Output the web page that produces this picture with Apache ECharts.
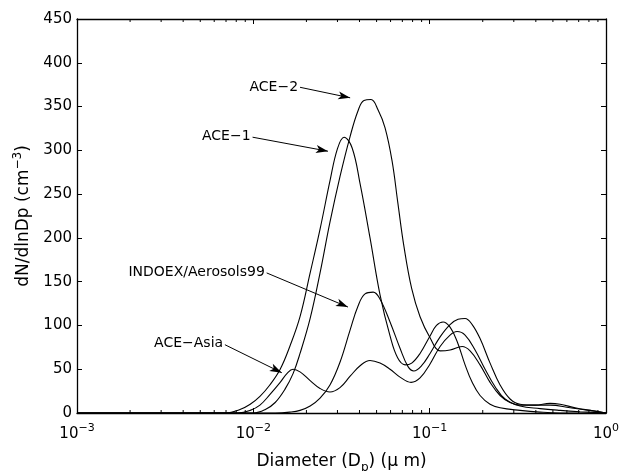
<!DOCTYPE html>
<html>
<head>
<meta charset="utf-8">
<script src="https://cdn.jsdelivr.net/npm/echarts@6/dist/echarts.min.js"></script>
<style>
  html, body { margin: 0; padding: 0; background: #fff; }
  #chart { width: 619px; height: 471px; }
</style>
</head>
<body>
<div id="chart"></div>
<script>
// size distributions, [diameter (um), dN/dlnDp (cm^-3)]
const ace1 = [
  [0.001, 0], [0.0070, 0], [0.0084, 4], [0.0096, 10], [0.0109, 19], [0.0124, 32],
  [0.0142, 50], [0.0161, 76], [0.0184, 110], [0.0210, 160], [0.0239, 210], [0.0272, 265],
  [0.0300, 302], [0.0327, 315], [0.0363, 303], [0.0403, 262], [0.0459, 200], [0.0523, 135],
  [0.0596, 88], [0.0658, 63], [0.0725, 55], [0.0791, 57], [0.0882, 68], [0.1005, 88],
  [0.1093, 100], [0.1191, 104], [0.1305, 98], [0.1430, 82], [0.1588, 55], [0.1742, 35],
  [0.1931, 20], [0.2201, 10], [0.2508, 6], [0.3257, 3], [0.4228, 1], [0.549, 0], [1, 0]
]
const ace2 = [
  [0.001, 0], [0.0100, 0], [0.0117, 4], [0.0133, 12], [0.0151, 27], [0.0168, 45],
  [0.0184, 68], [0.0210, 108], [0.0239, 160], [0.0272, 218], [0.0310, 270], [0.0354, 316],
  [0.0392, 345], [0.0424, 357], [0.0465, 358], [0.0510, 346], [0.0558, 326], [0.0612, 288],
  [0.0660, 240], [0.0715, 190], [0.0791, 142], [0.0882, 110], [0.1005, 86], [0.1146, 71],
  [0.1305, 72], [0.1528, 76], [0.1695, 71], [0.1931, 55], [0.2201, 35], [0.2508, 20],
  [0.2858, 12], [0.3257, 9], [0.4818, 9], [0.6258, 6], [0.8125, 3], [1, 0]
]
const indoex = [
  [0.001, 0], [0.0133, 0], [0.0161, 1], [0.0184, 3], [0.0210, 8], [0.0239, 17],
  [0.0272, 32], [0.0310, 58], [0.0354, 95], [0.0392, 122], [0.0430, 136], [0.0478, 138],
  [0.0523, 130], [0.0596, 104], [0.0679, 74], [0.0754, 53], [0.0813, 48], [0.0900, 54],
  [0.1005, 68], [0.1146, 87], [0.1305, 101], [0.1449, 107], [0.1588, 108], [0.1742, 101],
  [0.1931, 85], [0.2201, 57], [0.2508, 32], [0.2858, 16], [0.3257, 10], [0.396, 9],
  [0.4818, 11], [0.549, 10], [0.668, 6], [0.8125, 3], [1, 0]
]
const aceAsia = [
  [0.001, 0], [0.0082, 0], [0.0096, 3], [0.0109, 9], [0.0124, 21], [0.0142, 35],
  [0.0155, 45], [0.0168, 50], [0.0184, 47], [0.0210, 37], [0.0239, 28], [0.0272, 24],
  [0.0310, 29], [0.0354, 42], [0.0403, 54], [0.0459, 60], [0.0523, 57], [0.0596, 50],
  [0.0679, 41], [0.0784, 35], [0.0882, 40], [0.1005, 56], [0.1146, 76], [0.1305, 89],
  [0.1430, 93], [0.1588, 89], [0.1809, 72], [0.2062, 50], [0.2350, 30], [0.2677, 16],
  [0.3257, 8], [0.4228, 5], [0.549, 3], [0.713, 1.5], [1, 0]
]

const seriesNames = ['ACE−1', 'ACE−2', 'INDOEX/Aerosols99', 'ACE−Asia']
const seriesData = [ace1, ace2, indoex, aceAsia]
// arrow for each label: tail (at the text) and head, in data units
const arrowFrom = [[0.0099, 315], [0.0184, 372], [0.0119, 160], [0.0069, 78]]
const arrowTo = [[0.0265, 299], [0.0354, 360], [0.0344, 121], [0.0145, 46]]

const xMin = 0.001
const xMax = 1
const yMax = 450
const yStep = 50
const minorTicks = [
  0.002, 0.003, 0.004, 0.005, 0.006, 0.007, 0.008, 0.009,
  0.02, 0.03, 0.04, 0.05, 0.06, 0.07, 0.08, 0.09,
  0.2, 0.3, 0.4, 0.5, 0.6, 0.7, 0.8, 0.9
]

const fontFamily = 'DejaVu Sans'
const ink = '#000'

const supRich = {
  base: { fontSize: 15, fontFamily, color: ink },
  sup: { fontSize: 11, fontFamily, color: ink, padding: [0, 0, 11, 0] },
}

const axisLine = { show: true, onZero: false, lineStyle: { color: ink, width: 1.3 } }
const tick = { inside: true, length: 5, lineStyle: { color: ink, width: 1 } }

const chart = echarts.init(document.getElementById('chart'))

chart.setOption({
  animation: false,
  backgroundColor: '#fff',
  grid: { left: 77, right: 13, top: 19, bottom: 58, outerBoundsMode: 'none', containLabel: false },
  xAxis: [
    {
      type: 'log',
      logBase: 10,
      min: xMin,
      max: xMax,
      axisLine,
      axisTick: tick,
      splitLine: { show: false },
      axisLabel: {
        margin: 10,
        formatter: (v) => {
          const e = Math.round(Math.log10(v))
          return '{base|10}{sup|' + (e < 0 ? '−' + -e : e) + '}'
        },
        rich: supRich,
      },
      name: '{t|Diameter (D}{sub|p}{t|) (μ m)}',
      nameLocation: 'middle',
      nameGap: 37,
      nameTextStyle: {
        rich: {
          t: { fontSize: 17, fontFamily, color: ink },
          sub: { fontSize: 12, fontFamily, color: ink, padding: [12, 0, 0, 0] },
        },
      },
    },
    {
      type: 'log',
      logBase: 10,
      min: xMin,
      max: xMax,
      position: 'top',
      axisLine,
      axisTick: tick,
      axisLabel: { show: false },
      splitLine: { show: false },
    },
  ],
  yAxis: [
    {
      type: 'value',
      min: 0,
      max: yMax,
      interval: yStep,
      axisLine,
      axisTick: tick,
      splitLine: { show: false },
      axisLabel: { margin: 5, color: ink, fontSize: 15, fontFamily },
      name: '{t|dN/dlnDp (cm}{sup|−3}{t|)}',
      nameLocation: 'middle',
      nameGap: 37,
      nameTextStyle: {
        rich: {
          t: { fontSize: 17, fontFamily, color: ink },
          sup: { fontSize: 12, fontFamily, color: ink, padding: [0, 0, 12, 0] },
        },
      },
    },
    {
      type: 'value',
      min: 0,
      max: yMax,
      interval: yStep,
      position: 'right',
      axisLine,
      axisTick: tick,
      axisLabel: { show: false },
      splitLine: { show: false },
    },
  ],
  series: [
    ...seriesData.map((data, i) => ({
      name: seriesNames[i],
      type: 'line',
      data,
      showSymbol: false,
      smooth: 0.4,
      silent: true,
      lineStyle: { color: ink, width: 1.1 },
      z: 3,
      markLine: {
        silent: true,
        symbol: ['none', 'arrow'],
        symbolSize: [6, 12],
        lineStyle: { color: ink, width: 1, type: 'solid' },
        label: {
          show: true,
          position: 'start',
          distance: 2,
          formatter: seriesNames[i],
          color: ink,
          fontSize: 14,
          fontFamily,
        },
        data: [[{ coord: arrowFrom[i] }, { coord: arrowTo[i] }]],
      },
    })),
    {
      // minor ticks of the log axis, top and bottom
      type: 'custom',
      silent: true,
      z: 5,
      data: minorTicks.map((v) => [v, 0]),
      renderItem: (params, api) => {
        const b = api.coord([api.value(0), 0])
        const t = api.coord([api.value(0), yMax])
        return {
          type: 'group',
          children: [
            { type: 'line', shape: { x1: b[0], y1: b[1], x2: b[0], y2: b[1] - 3 }, style: { stroke: ink, lineWidth: 1 } },
            { type: 'line', shape: { x1: t[0], y1: t[1], x2: t[0], y2: t[1] + 3 }, style: { stroke: ink, lineWidth: 1 } },
          ],
        }
      },
    },
  ],
})
</script>
</body>
</html>
